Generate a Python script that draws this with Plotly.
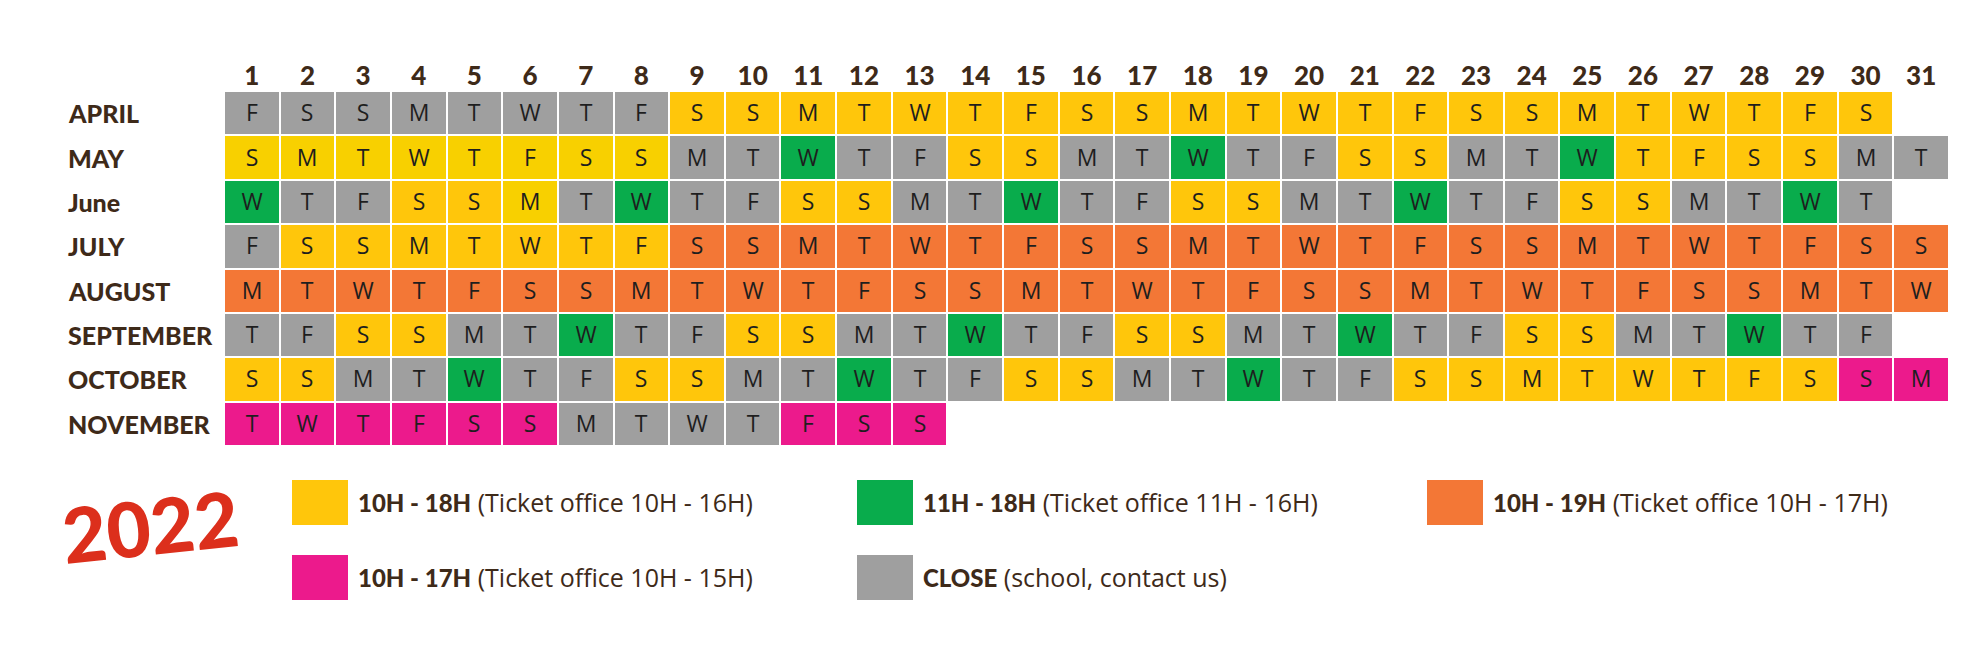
import plotly.graph_objects as go

months = ["APRIL", "MAY", "June", "JULY", "AUGUST", "SEPTEMBER", "OCTOBER", "NOVEMBER"]
day_numbers = [str(d) for d in range(1, 32)]

# weekday letter of each day, one string per month
weekdays = [
    "FSSMTWTFSSMTWTFSSMTWTFSSMTWTFS",
    "SMTWTFSSMTWTFSSMTWTFSSMTWTFSSMT",
    "WTFSSMTWTFSSMTWTFSSMTWTFSSMTWT",
    "FSSMTWTFSSMTWTFSSMTWTFSSMTWTFSS",
    "MTWTFSSMTWTFSSMTWTFSSMTWTFSSMTW",
    "TFSSMTWTFSSMTWTFSSMTWTFSSMTWTF",
    "SSMTWTFSSMTWTFSSMTWTFSSMTWTFSSM",
    "TWTFSSMTWTFSS",
]

# opening code of each day: C close, Y 10h-18h, L 10h-18h (lighter print), G 11h-18h,
# O 10h-19h, P 10h-17h
openings = [
    "CCCCCCCCYYYYYYYYYYYYYYYYYYYYYY",
    "LLLLLLLLCCGCCYYCCGCCYYCCGYYYYCC",
    "GCCYYLCGCCYYCCGCCYYCCGCCYYCCGC",
    "CYYYYYYYOOOOOOOOOOOOOOOOOOOOOOO",
    "OOOOOOOOOOOOOOOOOOOOOOOOOOOOOOO",
    "CCYYCCGCCYYCCGCCYYCCGCCYYCCGCC",
    "YYCCGCCYYCCGCCYYCCGCCYYYYYYYYPP",
    "PPPPPPCCCCPPP",
]

codes = ["C", "Y", "L", "G", "O", "P"]
code_colors = ["#9F9F9F", "#FFC60B", "#F8D000", "#09AC4C", "#F37736", "#EC1A8C"]

legend_colors = ["#FFC60B", "#EC1A8C", "#09AC4C", "#9F9F9F", "#F37736"]
legend_bold = ["10H - 18H", "10H - 17H", "11H - 18H", "CLOSE", "10H - 19H"]
legend_rest = [
    "(Ticket office 10H - 16H)",
    "(Ticket office 10H - 15H)",
    "(Ticket office 11H - 16H)",
    "(school, contact us)",
    "(Ticket office 10H - 17H)",
]

year = "2022"

# --- build grid ------------------------------------------------------------

z = []
letters = []
for wd, op in zip(weekdays, openings):
    row_z = [codes.index(c) for c in op] + [None] * (31 - len(op))
    row_t = list(wd) + [""] * (31 - len(wd))
    z.append(row_z)
    letters.append(row_t)

n = len(codes)
colorscale = []
for i, c in enumerate(code_colors):
    colorscale.append([i / n, c])
    colorscale.append([(i + 1) / n, c])

BROWN = "#3E2A19"
W, H = 1984, 652
L, R, T, B = 224, 1949, 91, 446   # plot box in pixels


def px(x):
    return (x - L) / (R - L)


def py(y):
    return (B - y) / (B - T)


fig = go.Figure()

fig.add_trace(
    go.Heatmap(
        z=z,
        x=list(range(1, 32)),
        y=list(range(len(months))),
        text=letters,
        texttemplate="%{text}",
        textfont=dict(family="Open Sans", size=23, color="#1E1E1E"),
        colorscale=colorscale,
        zmin=-0.5,
        zmax=n - 0.5,
        showscale=False,
        xgap=2,
        ygap=2,
        hoverinfo="skip",
    )
)

annotations = []
for i, m in enumerate(months):
    annotations.append(dict(
        x=px(66), y=i, xref="paper", yref="y", text=m, showarrow=False,
        xanchor="left", yanchor="middle",
        font=dict(family="Lato", size=25, color=BROWN, weight=900),
    ))

annotations.append(dict(
    x=px(150), y=py(525), xref="paper", yref="paper", text=year, showarrow=False,
    textangle=-6, xanchor="center", yanchor="middle",
    font=dict(family="Lato", size=76, color="#DC2F1C", weight=900),
))

# legend slots: (swatch left px, swatch top px)
slots = [(292, 480), (292, 555), (857, 480), (857, 555), (1427, 480)]
shapes = []
for (sx, sy), col, bold, rest in zip(slots, legend_colors, legend_bold, legend_rest):
    shapes.append(dict(
        type="rect", xref="paper", yref="paper",
        x0=px(sx), x1=px(sx + 56), y0=py(sy + 45), y1=py(sy),
        fillcolor=col, line=dict(width=0),
    ))
    annotations.append(dict(
        x=px(sx + 64), y=py(sy + 22), xref="paper", yref="paper", showarrow=False,
        xanchor="left", yanchor="middle",
        text=f"<span style='font-family:Lato;font-weight:900;font-size:24px'>{bold}</span> {rest}",
        font=dict(family="Open Sans", size=25, color=BROWN),
    ))

fig.update_layout(
    width=W,
    height=H,
    margin=dict(l=L, r=W - R, t=T, b=H - B),
    plot_bgcolor="white",
    paper_bgcolor="white",
    annotations=annotations,
    shapes=shapes,
    xaxis=dict(
        side="top",
        range=[0.5, 31.5],
        tickvals=list(range(1, 32)),
        ticktext=day_numbers,
        tickfont=dict(family="Lato", size=26, color=BROWN, weight=900),
        ticks="",
        showgrid=False,
        zeroline=False,
        showline=False,
        fixedrange=True,
    ),
    yaxis=dict(
        range=[len(months) - 0.5, -0.5],
        showticklabels=False,
        showgrid=False,
        zeroline=False,
        showline=False,
        fixedrange=True,
    ),
)

fig.write_html(
    "out.html",
    config={"displayModeBar": False},
    post_script="document.body.style.margin='0';",
)
